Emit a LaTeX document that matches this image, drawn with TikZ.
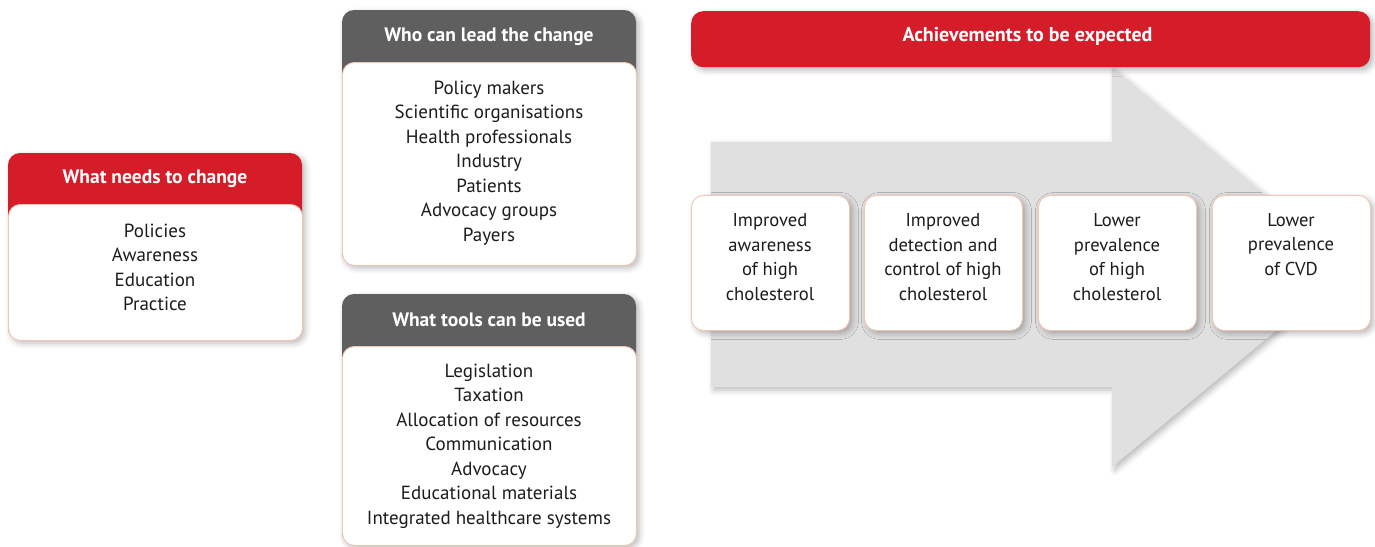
\documentclass[tikz,border=0pt]{standalone}
\usepackage{fontspec}
\setmainfont{PT Sans}
\usetikzlibrary{shadows.blur}
\definecolor{hdrred}{HTML}{D51C29}
\definecolor{hdrgrey}{HTML}{5F5F5F}
\definecolor{edgec}{HTML}{F3C6B4}
\definecolor{arrowgrey}{HTML}{E0E0E0}
\definecolor{txtc}{HTML}{1C1C1C}
\begin{document}
\begin{tikzpicture}[x=1pt,y=-1pt,
  softshadow/.style={blur shadow={shadow xshift=3pt,shadow yshift=-3pt,shadow blur radius=6pt,shadow opacity=28}},
  cardback/.style={rounded corners=12pt,softshadow},
  cardbody/.style={draw=edgec,line width=0.9pt,fill=white,rounded corners=12pt},
  hdrtext/.style={text=white,font=\bfseries\fontsize{19.5}{22}\selectfont,inner sep=0pt},
  bodytext/.style={text=txtc,align=center,font=\fontsize{19}{24.45}\selectfont,inner sep=0pt},
  achtext/.style={text=txtc,align=center,font=\fontsize{18.6}{24.6}\selectfont,inner sep=0pt},
  achbox/.style={cardbody,softshadow,minimum width=158pt,minimum height=135pt,anchor=north west,inner sep=0pt}]
\useasboundingbox (0,0) rectangle (1375,546);

% big grey arrow
\fill[arrowgrey,softshadow] (711,142) -- (1112,142) -- (1112,68) -- (1352,267.5) -- (1112,467) -- (1112,387) -- (711,387) -- cycle;

% card 1: what needs to change
\fill[hdrred,cardback] (8,153) rectangle (302,340);
\node[hdrtext] (h1) at (155,178.5) {What needs to change};
\node[cardbody,minimum width=294pt,minimum height=136pt,anchor=north west] (b1) at (8,204) {};
\node[bodytext] (t1) at (155,267.5) {Policies\\Awareness\\Education\\Practice};

% card 2: who can lead the change
\fill[hdrgrey,cardback] (342,10) rectangle (636,265);
\node[hdrtext] (h2) at (489,36.5) {Who can lead the change};
\node[cardbody,minimum width=294pt,minimum height=203pt,anchor=north west] (b2) at (342,62) {};
\node[bodytext] (t2) at (489,163) {Policy makers\\Scientific organisations\\Health professionals\\Industry\\Patients\\Advocacy groups\\Payers};

% card 3: what tools can be used
\fill[hdrgrey,cardback] (342,294) rectangle (636,545);
\node[hdrtext] (h3) at (489,319.5) {What tools can be used};
\node[cardbody,minimum width=294pt,minimum height=199pt,anchor=north west] (b3) at (342,346) {};
\node[bodytext] (t3) at (489,446) {Legislation\\Taxation\\Allocation of resources\\Communication\\Advocacy\\Educational materials\\Integrated healthcare systems};

% achievements header
\node[fill=hdrred,rounded corners=12pt,softshadow,minimum width=679pt,minimum height=56pt,anchor=north west,inner sep=0pt] (ah) at (691,11) {};
\node[text=white,font=\bfseries\fontsize{20}{22}\selectfont,inner sep=0pt] (aht) at (1027.5,36) {Achievements to be expected};

% achievement boxes
\node[achbox] (a1) at (691,195) {};
\node[achbox] (a2) at (864,195) {};
\node[achbox] (a3) at (1038,195) {};
\node[achbox] (a4) at (1212,195) {};
\node[achtext] (at1) at (770,257) {Improved\\awareness\\of high\\cholesterol};
\node[achtext] (at2) at (943,257) {Improved\\detection and\\control of high\\cholesterol};
\node[achtext] (at3) at (1117,257) {Lower\\prevalence\\of high\\cholesterol};
\node[achtext] (at4) at (1291,244.5) {Lower\\prevalence\\of CVD};
\end{tikzpicture}
\end{document}
